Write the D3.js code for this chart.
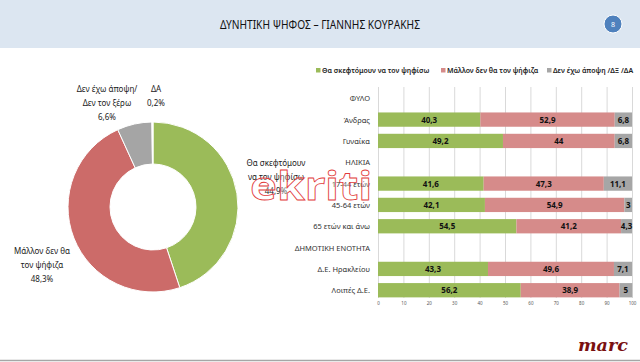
<!DOCTYPE html>
<html><head><meta charset="utf-8">
<script src="https://cdn.jsdelivr.net/npm/d3@7"></script>
<style>body{margin:0;background:#fff}svg{display:block;font-family:"Noto Sans",sans-serif}</style>
</head><body>
<svg id="c" width="640" height="362"></svg>
<script>
const title = "ΔΥΝΗΤΙΚΗ ΨΗΦΟΣ – ΓΙΑΝΝΗΣ ΚΟΥΡΑΚΗΣ";
const pageNo = "8";
// Pie
const pieLabels = [["Θα σκεφτόμουν","να τον ψηφίσω"],["Μάλλον δεν θα","τον ψήφιζα"],["Δεν έχω άποψη/","Δεν τον ξέρω"],["ΔΑ"]];
const pieValues = [44.9, 48.3, 6.6, 0.2];
// Bars
const seriesNames = ["Θα σκεφτόμουν να τον ψηφίσω","Μάλλον δεν θα τον ψήφιζα","Δεν έχω άποψη /ΔΞ /ΔΑ"];
const rows = ["ΦΥΛΟ","Άνδρας","Γυναίκα","ΗΛΙΚΙΑ","17-44 ετών","45-64 ετών","65 ετών και άνω","ΔΗΜΟΤΙΚΗ ΕΝΟΤΗΤΑ","Δ.Ε. Ηρακλείου","Λοιπές Δ.Ε."];
const yes =   [null,40.3,49.2,null,41.6,42.1,54.5,null,43.3,56.2];
const no =    [null,52.9,44,null,47.3,54.9,41.2,null,49.6,38.9];
const undec = [null,6.8,6.8,null,11.1,3,4.3,null,7.1,5];
const xTicks = [0,10,20,30,40,50,60,70,80,90,100];

const svg = d3.select("#c");
const fmt = v => String(v).replace(".", ",");

// header
svg.append("rect").attr("x",0).attr("y",0).attr("width",640).attr("height",48).attr("fill","#dce6f1");
svg.append("text").attr("x",320).attr("y",29).attr("text-anchor","middle").attr("font-size",12.5)
  .attr("textLength",200).attr("lengthAdjust","spacingAndGlyphs").attr("fill","#111").text(title);
svg.append("circle").attr("cx",613).attr("cy",24).attr("r",9).attr("fill","#4f81bd").attr("stroke","#fff").attr("stroke-width",1);
svg.append("text").attr("x",613).attr("y",27).attr("text-anchor","middle").attr("font-size",7).attr("fill","#fff").text(pageNo);

// bottom line and logo
svg.append("line").attr("x1",0).attr("x2",640).attr("y1",360.5).attr("y2",360.5).attr("stroke","#a6a6a6").attr("stroke-width",1.5);
svg.append("text").attr("x",628).attr("y",351).attr("text-anchor","end").attr("font-family","'DejaVu Serif',serif")
  .attr("font-style","italic").attr("font-weight","bold").attr("font-size",17).attr("fill","#7a1010")
  .attr("textLength",50).attr("lengthAdjust","spacingAndGlyphs").text("marc");

// pie
const pieColors = ["#9bbb59","#cc6b69","#a5a5a5","#ffffff"];
const pg = svg.append("g").attr("transform","translate(153,207)");
const arcs = d3.pie().sort(null)(pieValues);
const arc = d3.arc().innerRadius(43).outerRadius(85);
pg.selectAll("path").data(arcs).join("path").attr("d",arc)
  .attr("fill",(d,i)=>pieColors[i]).attr("stroke","#fff").attr("stroke-width",1);
const pieLabelPos = [[276,166],[42,254],[107,92],[156,92]];
pieLabels.forEach((lines,i)=>{
  const t = svg.append("text").attr("text-anchor","middle").attr("font-size",8).attr("fill","#222");
  const all = lines.concat([fmt(pieValues[i])+"%"]);
  all.forEach((s,j)=>t.append("tspan").attr("x",pieLabelPos[i][0]).attr("y",pieLabelPos[i][1]+j*14).text(s));
});

// bars
const x = d3.scaleLinear().domain([0,100]).range([378,632]);
const y = d3.scaleBand().domain(rows).range([87.5,301]).paddingInner(0.33).paddingOuter(0.17);
const bg = svg.append("g");
bg.selectAll("line.grid").data(xTicks).join("line").attr("class","grid")
  .attr("x1",d=>x(d)+0.5).attr("x2",d=>x(d)+0.5).attr("y1",87).attr("y2",298).attr("stroke","#d9d9d9").attr("stroke-width",1);
const barColors = ["#9bbb59","#d68b8a","#a6a6a6"];
const series = [yes,no,undec];
rows.forEach((r,i)=>{
  if (yes[i]===null) return;
  let acc = 0;
  series.forEach((s,k)=>{
    const v = s[i];
    bg.append("rect").attr("x",x(acc)).attr("y",y(r)).attr("width",x(acc+v)-x(acc)).attr("height",y.bandwidth()).attr("fill",barColors[k]);
    bg.append("text").attr("x",x(acc+v/2)).attr("y",y(r)+y.bandwidth()/2+3).attr("text-anchor","middle")
      .attr("font-size",8).attr("font-weight","bold").attr("fill","#111").text(fmt(v));
    acc += v;
  });
});
// category labels
svg.append("g").selectAll("text").data(rows).join("text").attr("x",370).attr("y",d=>y(d)+y.bandwidth()/2+3)
  .attr("text-anchor","end").attr("font-size",7.5).attr("fill","#333").text(d=>d);
// x axis
const ax = svg.append("g").attr("transform","translate(0,299)").call(d3.axisBottom(x).tickValues(xTicks).tickSize(0).tickPadding(3));
ax.select(".domain").remove();
ax.selectAll("text").attr("font-size",4.5).attr("fill","#555").attr("font-family","'Noto Sans',sans-serif");

// legend
const legX = [316,441,547];
const leg = svg.append("g");
seriesNames.forEach((n,k)=>{
  leg.append("rect").attr("x",legX[k]).attr("y",68).attr("width",4.5).attr("height",4.5).attr("fill",barColors[k]);
  leg.append("text").attr("x",legX[k]+6).attr("y",73).attr("font-size",7).attr("font-weight",600).attr("fill","#222").text(n);
});

// watermark
svg.append("text").attr("x",250).attr("y",200).attr("font-family","'Noto Sans',sans-serif").attr("font-weight","bold")
  .attr("font-size",40).attr("fill","#fff").attr("fill-opacity",0.3).attr("stroke","#e23b3b").attr("stroke-width",0.8)
  .attr("textLength",122).attr("lengthAdjust","spacingAndGlyphs").text("ekriti");
</script>
</body></html>
